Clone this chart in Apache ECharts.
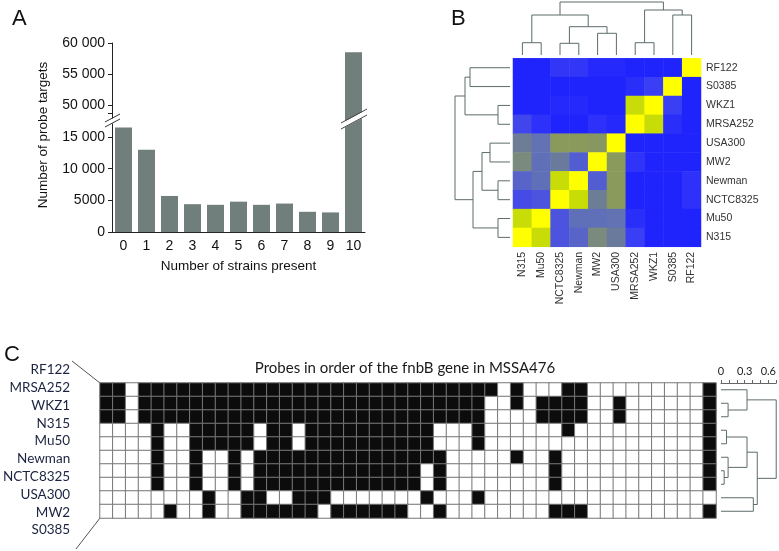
<!DOCTYPE html>
<html><head><meta charset="utf-8">
<script src="https://cdn.jsdelivr.net/npm/echarts@6/dist/echarts.min.js"></script>
<style>html,body{margin:0;padding:0;background:#fff}#c{width:779px;height:551px}</style>
</head><body><div id="c"></div>
<script>
// ---------- Panel A data ----------
const strainCounts = ['0','1','2','3','4','5','6','7','8','9','10'];
const probeTargets = [16500, 13000, 5700, 4400, 4300, 4800, 4300, 4500, 3200, 3100, 58500];
const lowTickValues = [0, 5000, 10000, 15000];
const lowTickLabels = ['0', '5000', '10 000', '15 000'];
const highTickValues = [50000, 55000, 60000];
const highTickLabels = ['50 000', '55 000', '60 000'];

// ---------- Panel B data ----------
const heatCols = ['N315','Mu50','NCTC8325','Newman','MW2','USA300','MRSA252','WKZ1','S0385','RF122'];
const heatRows = ['RF122','S0385','WKZ1','MRSA252','USA300','MW2','Newman','NCTC8325','Mu50','N315'];
const rowRF122    = [0.00,0.00,0.07,0.07,0.02,0.02,0.00,0.00,0.00,1.00];
const rowS0385    = [0.00,0.00,0.00,0.00,0.00,0.00,0.04,0.10,1.00,0.00];
const rowWKZ1     = [0.00,0.00,0.02,0.02,0.00,0.00,0.80,1.00,0.10,0.00];
const rowMRSA252  = [0.13,0.05,0.00,0.00,0.05,0.02,1.00,0.80,0.04,0.00];
const rowUSA300   = [0.42,0.32,0.60,0.60,0.58,1.00,0.00,0.00,0.00,0.00];
const rowMW2      = [0.50,0.30,0.40,0.22,1.00,0.60,0.06,0.00,0.00,0.00];
const rowNewman   = [0.25,0.30,0.80,1.00,0.22,0.60,0.00,0.00,0.00,0.05];
const rowNCTC8325 = [0.15,0.18,1.00,0.80,0.42,0.60,0.00,0.00,0.00,0.05];
const rowMu50     = [0.80,1.00,0.18,0.30,0.30,0.32,0.04,0.00,0.00,0.00];
const rowN315     = [1.00,0.80,0.18,0.25,0.50,0.40,0.10,0.00,0.00,0.00];
// dendrogram merges: [childA, childB, height]; leaves 0..9, merge k -> 10+k
const topMerges  = [[0,1,12.3],[2,3,11.7],[4,5,21.7],[11,12,28.3],[10,13,40],[6,7,12.3],[8,9,40],[15,16,45],[14,17,53]];
const leftMerges = [[0,1,40],[2,3,12],[10,11,45],[4,5,20],[6,7,12],[13,14,28],[8,9,12],[15,16,37],[12,17,55]];

// ---------- Panel C data ----------
const stripRows = ['RF122','MRSA252','WKZ1','N315','Mu50','Newman','NCTC8325','USA300','MW2','S0385'];
const probeIds = Array.from({length:48}, (_, i) => String(i + 1));
const p0 = [1,1,0,1,1,1,1,1,1,1,1,1, 1,1,1,1,1,1,1,1,1,1,1,1, 1,1,1,1,1,1,1,0,1,0,0,0, 1,1,0,0,0,0,0,0,0,0,0,1];
const p1 = [1,1,0,1,1,1,1,1,1,1,1,1, 1,1,1,1,1,1,1,1,1,1,1,1, 1,1,1,1,1,1,0,0,1,0,1,1, 1,1,0,0,1,0,0,0,0,0,0,1];
const p2 = [1,1,0,1,1,1,1,1,1,1,1,1, 1,1,1,1,1,1,1,1,1,1,1,1, 1,1,1,1,1,1,0,0,0,0,1,1, 1,1,0,0,1,0,0,0,0,0,0,1];
const p3 = [0,0,0,0,1,0,0,1,1,1,1,1, 0,1,1,0,1,1,1,1,1,1,1,1, 1,1,0,0,0,1,0,0,0,0,0,0, 1,0,0,0,0,0,0,0,0,0,0,1];
const p4 = [0,0,0,0,1,0,0,1,1,1,1,1, 0,1,1,0,1,1,1,1,1,1,1,1, 1,1,0,0,0,1,0,0,0,0,0,0, 0,0,0,0,0,0,0,0,0,0,0,1];
const p5 = [0,0,0,0,1,0,0,1,0,0,1,0, 1,1,1,1,1,1,1,1,1,1,1,1, 1,1,1,0,0,0,0,0,1,0,0,1, 0,0,0,0,0,0,0,0,0,0,0,1];
const p6 = [0,0,0,0,1,0,0,1,0,0,1,0, 1,1,1,1,1,1,1,1,1,1,1,1, 1,0,1,0,0,0,0,0,0,0,0,1, 0,0,0,0,0,0,0,0,0,0,0,1];
const p7 = [0,0,0,0,1,0,0,1,0,0,1,0, 1,1,1,1,1,1,1,1,1,1,1,1, 1,0,1,0,0,0,0,0,0,0,0,1, 0,0,0,0,0,0,0,0,0,0,0,1];
const p8 = [0,0,0,0,0,0,0,0,1,0,0,1, 1,0,0,1,1,1,0,0,0,0,0,0, 0,1,0,0,0,1,0,0,0,0,0,0, 0,0,0,0,0,0,0,0,0,0,0,0];
const p9 = [0,0,0,0,0,1,0,0,1,0,0,1, 1,1,1,1,1,0,1,1,1,1,1,1, 0,0,1,0,0,0,0,0,0,0,0,1, 1,1,0,0,0,0,0,0,0,0,0,1];
const rightMerges = [[1,2,0.09],[0,10,0.33],[3,4,0.07],[6,7,0.04],[5,13,0.09],[12,14,0.33],[8,9,0.41],[15,16,0.46],[11,17,0.70]];
const scaleLabelValues = [0, 0.3, 0.6];

// ---------- build ----------
const simMatrix = [rowRF122,rowS0385,rowWKZ1,rowMRSA252,rowUSA300,rowMW2,rowNewman,rowNCTC8325,rowMu50,rowN315];
const heatB = [];
simMatrix.forEach((row, r) => row.forEach((v, c) => heatB.push([c, r, v])));
const presence = [p0,p1,p2,p3,p4,p5,p6,p7,p8,p9];
const heatC = [];
presence.forEach((row, r) => row.forEach((v, c) => heatC.push([c, r, v])));

function dendro(merges, n) {
  const pos = [], ht = [], out = [];
  for (let i = 0; i < n; i++) { pos.push(i + 0.5); ht.push(0); }
  merges.forEach(([a, b, h]) => {
    out.push([pos[a], pos[b], ht[a], ht[b], h]);
    pos.push((pos[a] + pos[b]) / 2); ht.push(h);
  });
  return out;
}
const dendroColor = '#5d6b6b';
function renderVertical(params, api) {
  const p = [api.coord([api.value(0), api.value(2)]), api.coord([api.value(0), api.value(4)]),
             api.coord([api.value(1), api.value(4)]), api.coord([api.value(1), api.value(3)])];
  return {type:'polyline', shape:{points:p}, style:{stroke:dendroColor, lineWidth:1, fill:null}};
}
function renderHorizontal(params, api) {
  const p = [api.coord([api.value(2), api.value(0)]), api.coord([api.value(4), api.value(0)]),
             api.coord([api.value(4), api.value(1)]), api.coord([api.value(3), api.value(1)])];
  return {type:'polyline', shape:{points:p}, style:{stroke:dendroColor, lineWidth:1, fill:null}};
}

const sans = 'Liberation Sans, Arial, sans-serif';
const hum = 'Lato, Open Sans, sans-serif';
const hidden = {show:false};
const lowMax = 18800, highMin = 46300, highMax = 60000;

const option = {
  animation: false,
  backgroundColor: '#fff',
  grid: [
    {left:112, top:113, width:253, height:119.06},          // 0 A low
    {left:112, top:43, width:253, height:84.94},            // 1 A high
    {left:513, top:58.3, width:188, height:188.5},          // 2 B heat
    {left:513, top:2, width:188, height:53},                // 3 B top dendro
    {left:455, top:58.3, width:55, height:188.5},           // 4 B left dendro
    {left:100, top:383, width:616, height:135},             // 5 C heat
    {left:72, top:361, width:10, height:178},               // 6 C labels
    {left:721, top:383, width:56, height:135}               // 7 C dendro
  ],
  xAxis: [
    {gridIndex:0, type:'category', data:strainCounts,
     axisLine:{lineStyle:{color:'#222'}}, axisTick:{length:4, lineStyle:{color:'#222'}},
     axisLabel:{fontSize:14, color:'#111', margin:7, fontFamily:sans},
     name:'Number of strains present', nameLocation:'middle', nameGap:27,
     nameTextStyle:{fontSize:13.5, color:'#111', fontFamily:sans}},
    {gridIndex:1, type:'category', data:strainCounts, show:false},
    {gridIndex:2, type:'category', data:heatCols, position:'bottom',
     axisLine:hidden, axisTick:hidden,
     axisLabel:{rotate:90, fontSize:10.5, color:'#333', margin:5, fontFamily:sans, interval:0}},
    {gridIndex:3, type:'value', min:0, max:10, show:false},
    {gridIndex:4, type:'value', min:0, max:55, inverse:true, show:false},
    {gridIndex:5, type:'category', data:probeIds, show:false},
    {gridIndex:6, type:'value', show:false},
    {gridIndex:7, type:'value', min:0, max:0.7, interval:0.1, position:'top',
     axisLine:{lineStyle:{color:'#666'}}, axisTick:{length:3, lineStyle:{color:'#666'}},
     axisLabel:{customValues:scaleLabelValues, fontSize:11, color:'#222', margin:6, fontFamily:hum,
                formatter:(v)=>String(Math.round(v*10)/10)},
     splitLine:hidden}
  ],
  yAxis: [
    {gridIndex:0, type:'value', min:0, max:lowMax, interval:5000,
     axisLine:{show:true, lineStyle:{color:'#222'}}, axisTick:{show:true, length:4, lineStyle:{color:'#222'}},
     axisLabel:{fontSize:14, color:'#111', margin:7, fontFamily:sans,
                formatter:(v)=>{const i=lowTickValues.indexOf(v); return i<0?'':lowTickLabels[i];}},
     splitLine:hidden},
    {gridIndex:1, type:'value', min:highMin, max:highMax,
     axisLine:{show:true, lineStyle:{color:'#222'}},
     axisTick:{show:true, length:4, customValues:highTickValues, lineStyle:{color:'#222'}},
     axisLabel:{fontSize:14, color:'#111', margin:7, fontFamily:sans, customValues:highTickValues,
                formatter:(v)=>{const i=highTickValues.indexOf(v); return i<0?'':highTickLabels[i];}},
     splitLine:hidden},
    {gridIndex:2, type:'category', data:heatRows, inverse:true, position:'right',
     axisLine:hidden, axisTick:hidden,
     axisLabel:{fontSize:10.5, color:'#333', margin:5, fontFamily:sans, interval:0}},
    {gridIndex:3, type:'value', min:0, max:53, show:false},
    {gridIndex:4, type:'value', min:0, max:10, inverse:true, show:false},
    {gridIndex:5, type:'category', data:stripRows, inverse:true, show:false},
    {gridIndex:6, type:'category', data:stripRows, inverse:true,
     axisLine:hidden, axisTick:hidden, splitLine:hidden,
     axisLabel:{fontSize:13.5, color:'#1c2340', margin:5, fontFamily:hum, interval:0}},
    {gridIndex:7, type:'value', min:0, max:10, inverse:true, show:false}
  ],
  visualMap: [
    {type:'continuous', show:false, seriesIndex:2, min:0, max:1, dimension:2,
     inRange:{color:['#2024fc','#3a3ef5','#5058d8','#6070b8','#6a7a9c','#7a8a7c','#8a9a5c','#a8bc34','#c8dc08','#e6f004','#ffff00']}},
    {type:'piecewise', show:false, seriesIndex:5, dimension:2,
     pieces:[{min:-0.5, max:0.5, color:'#ffffff'}, {min:0.5, max:1.5, color:'#0c0c0c'}]}
  ],
  series: [
    {type:'bar', xAxisIndex:0, yAxisIndex:0, data:probeTargets, barWidth:17, clip:true,
     itemStyle:{color:'#707e7c'}},
    {type:'bar', xAxisIndex:1, yAxisIndex:1, data:probeTargets.map(v => v > highMin ? v : null),
     barWidth:17, clip:true, itemStyle:{color:'#707e7c'}},
    {type:'heatmap', xAxisIndex:2, yAxisIndex:2, data:heatB, itemStyle:{borderWidth:0}},
    {type:'custom', xAxisIndex:3, yAxisIndex:3, data:dendro(topMerges, 10), renderItem:renderVertical, silent:true},
    {type:'custom', xAxisIndex:4, yAxisIndex:4, data:dendro(leftMerges, 10), renderItem:renderHorizontal, silent:true},
    {type:'heatmap', xAxisIndex:5, yAxisIndex:5, data:heatC, itemStyle:{borderColor:'#777', borderWidth:1}},
    {type:'custom', xAxisIndex:7, yAxisIndex:7, data:dendro(rightMerges, 10), renderItem:renderHorizontal, silent:true}
  ],
  graphic: [
    {type:'text', left:12, top:8, style:{text:'A', fontSize:22, fill:'#111', fontFamily:sans}},
    {type:'text', left:451, top:8, style:{text:'B', fontSize:22, fill:'#111', fontFamily:sans}},
    {type:'text', left:4, top:344, style:{text:'C', fontSize:22, fill:'#111', fontFamily:sans}},
    {type:'text', x:43, y:135, rotation:Math.PI/2,
     style:{text:'Number of probe targets', fontSize:13.5, fill:'#111', fontFamily:sans, align:'center', verticalAlign:'middle'}},
    // axis break marks
    {type:'polygon', shape:{points:[[104,123],[121,114],[121,119],[104,128]]}, style:{fill:'#fff'}, z:10},
    {type:'line', shape:{x1:105,y1:122,x2:120,y2:114}, style:{stroke:'#333', lineWidth:1}, z:11},
    {type:'line', shape:{x1:105,y1:127,x2:120,y2:119}, style:{stroke:'#333', lineWidth:1}, z:11},
    {type:'polygon', shape:{points:[[340,124],[368,109],[368,115],[340,130]]}, style:{fill:'#fff'}, z:10},
    {type:'line', shape:{x1:341,y1:123,x2:367,y2:109}, style:{stroke:'#444', lineWidth:1}, z:11},
    {type:'line', shape:{x1:341,y1:129,x2:367,y2:115}, style:{stroke:'#444', lineWidth:1}, z:11},
    // panel C title and connectors
    {type:'text', x:405, y:368, style:{text:'Probes in order of the fnbB gene in MSSA476', fontSize:15, fill:'#1a1a1a',
      fontFamily:hum, align:'center', verticalAlign:'middle'}},
    {type:'line', shape:{x1:72,y1:361,x2:100,y2:383}, style:{stroke:'#555', lineWidth:1}},
    {type:'line', shape:{x1:100,y1:518,x2:76,y2:549}, style:{stroke:'#555', lineWidth:1}}
  ]
};
const chart = echarts.init(document.getElementById('c'));
chart.setOption(option);
</script></body></html>
